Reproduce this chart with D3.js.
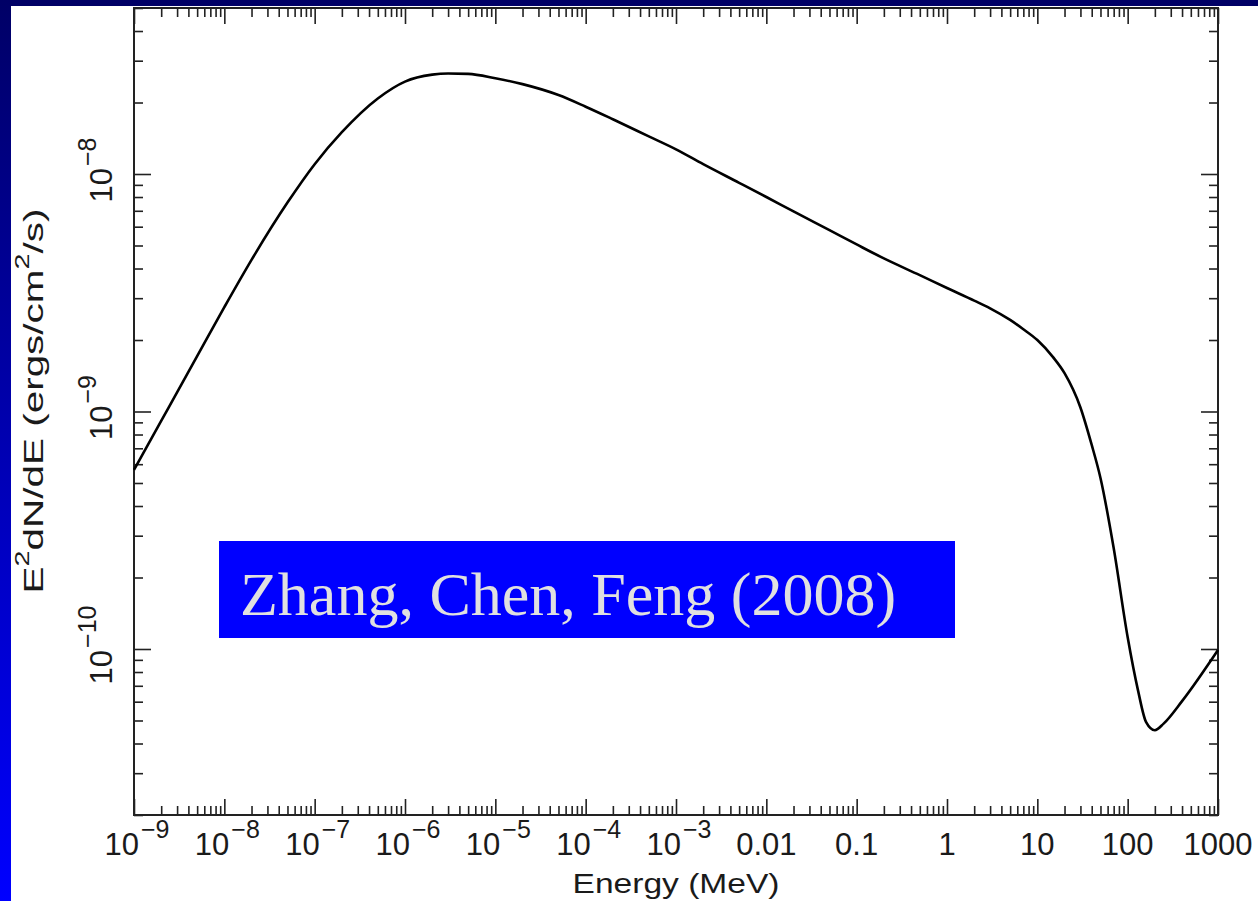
<!DOCTYPE html>
<html>
<head>
<meta charset="utf-8">
<script src="https://cdn.jsdelivr.net/npm/d3@7"></script>
<style>
  html, body { margin: 0; padding: 0; background: #fff; }
  svg { display: block; }
</style>
</head>
<body>
<script>
var width = 1258;
var height = 901;

// spectrum (MeV, ergs/cm^2/s)
var energy = [1e-9, 2e-9, 5e-9, 1e-8, 2e-8, 5e-8, 1e-7, 2e-7, 5e-7, 1e-6, 2e-6, 3e-6, 5e-6,
              1e-5, 2e-5, 5e-5, 1e-4, 2e-4, 5e-4, 1e-3, 2e-3, 5e-3, 0.01, 0.02, 0.05, 0.1, 0.2, 0.5,
              1, 2, 3, 5, 7, 10, 15, 20, 30, 40, 50, 70, 100, 130, 160, 200, 250, 400, 1000];
var flux = [5.68e-10, 9.13e-10, 1.71e-9, 2.75e-9, 4.35e-9, 7.58e-9, 1.10e-8, 1.50e-8, 2.08e-8, 2.45e-8, 2.62e-8, 2.65e-8, 2.64e-8,
            2.53e-8, 2.39e-8, 2.15e-8, 1.92e-8, 1.70e-8, 1.44e-8, 1.27e-8, 1.10e-8, 9.18e-9, 8.00e-9, 6.96e-9, 5.80e-9, 5.05e-9, 4.41e-9, 3.75e-9,
            3.31e-9, 2.93e-9, 2.72e-9, 2.43e-9, 2.22e-9, 2.00e-9, 1.69e-9, 1.45e-9, 1.04e-9, 7.23e-10, 5.25e-10, 2.66e-10, 1.12e-10, 6.71e-11, 4.92e-11, 4.55e-11, 4.85e-11, 6.03e-11, 9.9e-11];

var xTicks = [1e-9, 1e-8, 1e-7, 1e-6, 1e-5, 1e-4, 1e-3, 0.01, 0.1, 1, 10, 100, 1000];
var xTickBase = ["10", "10", "10", "10", "10", "10", "10", "0.01", "0.1", "1", "10", "100", "1000"];
var xTickExp = ["\u22129", "\u22128", "\u22127", "\u22126", "\u22125", "\u22124", "\u22123", "", "", "", "", "", ""];

var yTicks = [1e-10, 1e-9, 1e-8];
var yTickBase = ["10", "10", "10"];
var yTickExp = ["\u221210", "\u22129", "\u22128"];

var pLeft = 134, pRight = 1218, pTop = 8, pBottom = 815;

var svg = d3.select("body")
    .append("svg")
    .attr("width", width)
    .attr("height", height);

// slide background
var defs = svg.append("defs");
var grad = defs.append("linearGradient")
    .attr("id", "side")
    .attr("x1", 0).attr("y1", 0).attr("x2", 0).attr("y2", 1);
grad.append("stop").attr("offset", "0%").attr("stop-color", "#000066");
grad.append("stop").attr("offset", "100%").attr("stop-color", "#0000ff");

svg.append("rect").attr("x", 0).attr("y", 0).attr("width", width).attr("height", height).attr("fill", "#fff");
svg.append("rect").attr("x", 0).attr("y", 0).attr("width", width).attr("height", 6).attr("fill", "#000066");
svg.append("rect").attr("x", 0).attr("y", 0).attr("width", 11).attr("height", height).attr("fill", "url(#side)");

var x = d3.scaleLog().domain([1e-9, 1000]).range([pLeft, pRight]);
var y = d3.scaleLog().domain([2e-11, 5e-8]).range([pBottom, pTop]);

// minor ticks 2..9 in each decade
var xMinor = [];
for (var p = -9; p < 3; p++) {
    for (var m = 2; m <= 9; m++) xMinor.push(m * Math.pow(10, p));
}
var yMinor = [];
for (var q = -11; q <= -8; q++) {
    for (var k = 2; k <= 9; k++) {
        var v = k * Math.pow(10, q);
        if (v >= 2e-11 && v <= 5e-8) yMinor.push(v);
    }
}

function drawAxis(axis, tf, vals, size) {
    var g = svg.append("g")
        .attr("transform", tf)
        .call(axis.tickValues(vals).tickSize(-size).tickFormat(""));
    g.select(".domain").remove();
    g.selectAll("line").attr("stroke", "#222").attr("stroke-width", 1.6);
}

drawAxis(d3.axisBottom(x), "translate(0," + pBottom + ")", xTicks, 16);
drawAxis(d3.axisBottom(x), "translate(0," + pBottom + ")", xMinor, 9);
drawAxis(d3.axisTop(x), "translate(0," + pTop + ")", xTicks, 16);
drawAxis(d3.axisTop(x), "translate(0," + pTop + ")", xMinor, 9);
drawAxis(d3.axisLeft(y), "translate(" + pLeft + ",0)", yTicks, 17);
drawAxis(d3.axisLeft(y), "translate(" + pLeft + ",0)", yMinor, 9);
drawAxis(d3.axisRight(y), "translate(" + pRight + ",0)", yTicks, 17);
drawAxis(d3.axisRight(y), "translate(" + pRight + ",0)", yMinor, 9);

svg.append("rect")
    .attr("x", pLeft).attr("y", pTop)
    .attr("width", pRight - pLeft).attr("height", pBottom - pTop)
    .attr("fill", "none")
    .attr("stroke", "#222")
    .attr("stroke-width", 2);

// tick labels
var xl = svg.append("g")
    .attr("font-family", "Liberation Sans, Arial, sans-serif")
    .attr("fill", "#1a1a1a");
xTicks.forEach(function (d, i) {
    var t = xl.append("text")
        .attr("x", x(d) + (xTickExp[i] ? 3 : 0))
        .attr("y", 855)
        .attr("text-anchor", "middle")
        .attr("font-size", "31px");
    t.append("tspan").text(xTickBase[i]);
    if (xTickExp[i]) {
        t.append("tspan").attr("dy", -17).attr("dx", 2).attr("font-size", "25px").text(xTickExp[i]);
    }
});

yTicks.forEach(function (d, i) {
    var t = xl.append("text")
        .attr("transform", "translate(112," + (y(d) - 4) + ") rotate(-90)")
        .attr("text-anchor", "middle")
        .attr("font-size", "31px");
    t.append("tspan").text(yTickBase[i]);
    t.append("tspan").attr("dy", -16).attr("dx", 2).attr("font-size", "25px").text(yTickExp[i]);
});

// axis titles
xl.append("text")
    .attr("x", 676)
    .attr("y", 893)
    .attr("text-anchor", "middle")
    .attr("font-size", "28px")
    .attr("textLength", 207)
    .attr("lengthAdjust", "spacingAndGlyphs")
    .text("Energy (MeV)");

var yt = xl.append("text")
    .attr("transform", "translate(43,401) rotate(-90)")
    .attr("text-anchor", "middle")
    .attr("font-size", "28px")
    .attr("textLength", 385)
    .attr("lengthAdjust", "spacingAndGlyphs");
yt.append("tspan").text("E");
yt.append("tspan").attr("dy", -14).attr("font-size", "20px").text("2");
yt.append("tspan").attr("dy", 14).text("dN/dE (ergs/cm");
yt.append("tspan").attr("dy", -14).attr("font-size", "20px").text("2");
yt.append("tspan").attr("dy", 14).text("/s)");

// spectrum
var line = d3.line()
    .x(function (d, i) { return x(energy[i]); })
    .y(function (d) { return y(d); })
    .curve(d3.curveMonotoneX);

svg.append("path")
    .datum(flux)
    .attr("d", line)
    .attr("fill", "none")
    .attr("stroke", "#000")
    .attr("stroke-width", 2.6);

// citation box
svg.append("rect")
    .attr("x", 219).attr("y", 541)
    .attr("width", 736).attr("height", 97)
    .attr("fill", "#0000ff");
svg.append("text")
    .attr("x", 240)
    .attr("y", 615)
    .attr("font-family", "Liberation Serif, Times New Roman, serif")
    .attr("font-size", "62px")
    .attr("fill", "#e0e0e0")
    .text("Zhang, Chen, Feng (2008)");
</script>
</body>
</html>
